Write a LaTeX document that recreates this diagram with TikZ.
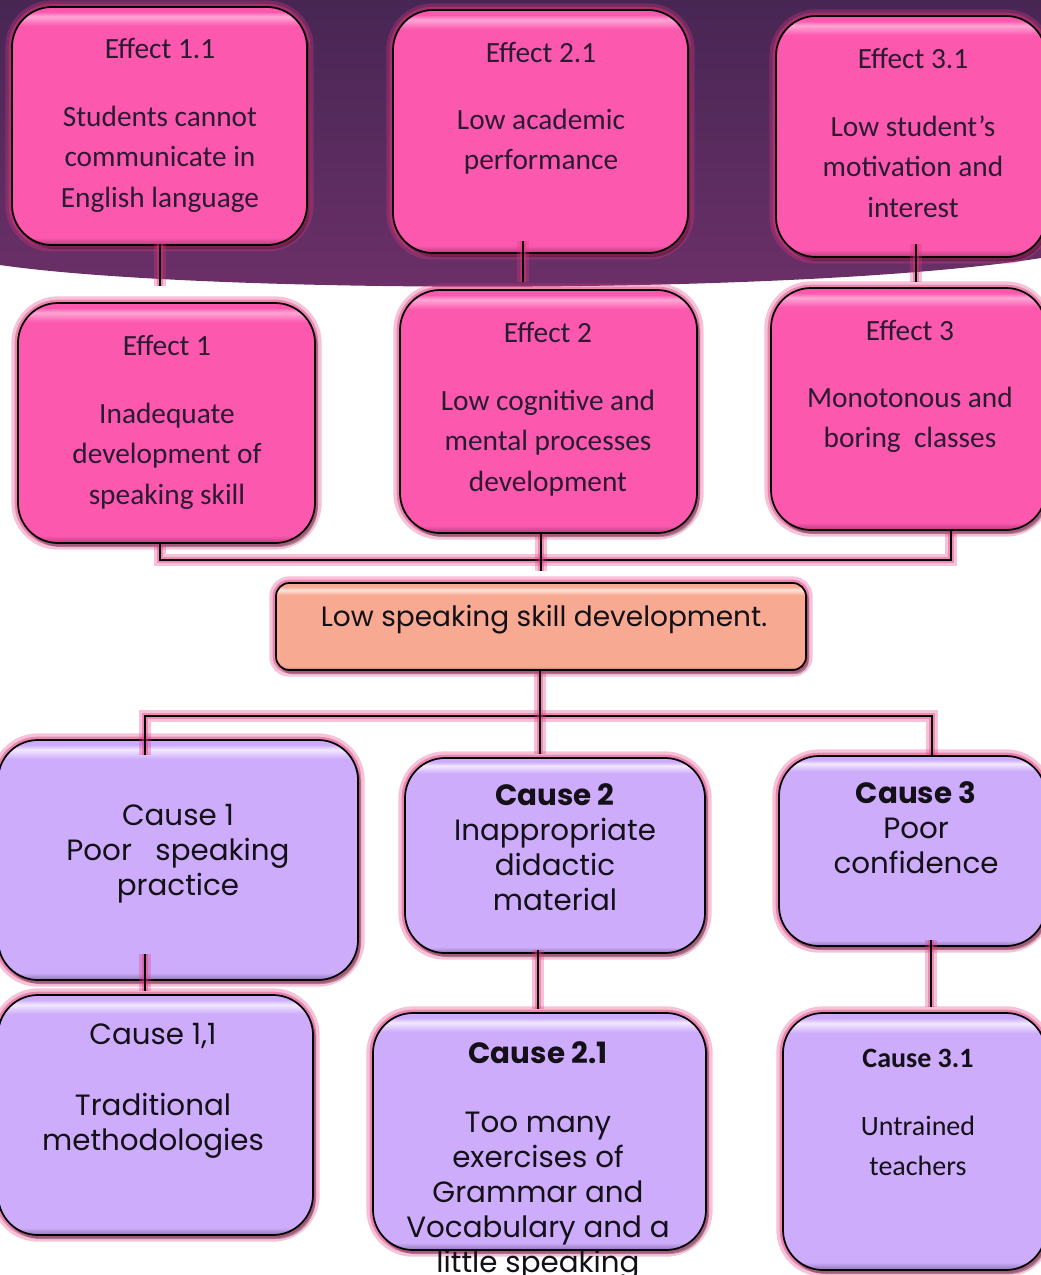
\documentclass[tikz,border=0pt]{standalone}
\usepackage{fontspec}
\setmainfont{Carlito}
\newfontfamily\gothic{Poppins}
\usetikzlibrary{fit,shadows}
\definecolor{pinkbase}{HTML}{FB58AE}
\definecolor{pinklight}{HTML}{FFA6D6}
\definecolor{pinkdark}{HTML}{B83A7C}
\definecolor{lavbase}{HTML}{CDACFB}
\definecolor{lavlight}{HTML}{F2E8FF}
\definecolor{lavdark}{HTML}{8E74B4}
\definecolor{salbase}{HTML}{F8A992}
\definecolor{sallight}{HTML}{FFE2D8}
\definecolor{saldark}{HTML}{B8735F}
\definecolor{glowc}{HTML}{E0357F}
\definecolor{bgtop}{HTML}{472654}
\definecolor{bgbot}{HTML}{6C3068}
\definecolor{etext}{HTML}{2A1B33}
\definecolor{ctext}{HTML}{141018}
\pgfdeclareverticalshading{pinkbev}{100bp}{color(0bp)=(pinkdark); color(25bp)=(pinkdark); color(26.5bp)=(pinkbase); color(71bp)=(pinkbase); color(73bp)=(pinklight); color(74bp)=(pinkbase); color(100bp)=(pinkbase)}
\pgfdeclareverticalshading{lavbev}{100bp}{color(0bp)=(lavdark); color(25bp)=(lavdark); color(26.5bp)=(lavbase); color(71bp)=(lavbase); color(73bp)=(lavlight); color(74bp)=(lavbase); color(100bp)=(lavbase)}
\pgfdeclareverticalshading{salbev}{100bp}{color(0bp)=(saldark); color(25bp)=(saldark); color(27bp)=(salbase); color(68bp)=(salbase); color(71bp)=(sallight); color(73bp)=(salbase); color(100bp)=(salbase)}
\tikzset{
  boxbase/.style={rectangle, inner sep=0pt, draw=black, line width=1.3pt,
    preaction={draw=glowc, line width=10pt, opacity=0.3},
    preaction={draw=glowc, line width=5pt, opacity=0.45},
    drop shadow={shadow xshift=2pt, shadow yshift=-3pt, opacity=0.3, fill=black}},
  ebox/.style={boxbase, rounded corners=30pt, shade, shading=pinkbev},
  cbox/.style={boxbase, rounded corners=30pt, shade, shading=lavbev},
  mbox/.style={boxbase, rounded corners=10pt, shade, shading=salbev},
  etxt/.style={align=center, text=etext, inner sep=0pt, font=\fontsize{22}{30.4}\selectfont},
  ctxt/.style={align=center, text=ctext, inner sep=0pt, font=\gothic\fontsize{22}{26.25}\selectfont},
  c3txt/.style={align=center, text=ctext, inner sep=0pt, font=\fontsize{21}{30}\selectfont},
  conn/.style={draw=black, line width=1.1pt,
    preaction={draw=glowc, line width=9pt, opacity=0.3},
    preaction={draw=glowc, line width=5pt, opacity=0.4}},
}
\begin{document}
\begin{tikzpicture}[x=0.75pt, y=-0.75pt]
\useasboundingbox (0,0) rectangle (1041,1275);
\clip (0,0) rectangle (1041,1275);
% background band
\shade[top color=bgtop, bottom color=bgbot] (0,0) -- (1041,0) -- (1041,258)
  .. controls (800,296) and (200,294) .. (0,265) -- cycle;

% boxes
\node[ebox, fit={(12,7) (307,245)}] (e11) {};
\node[ebox, fit={(393,10) (688,253)}] (e21) {};
\node[ebox, fit={(776,16) (1046,257)}] (e31) {};
\node[ebox, fit={(18,303) (315,543)}] (e1) {};
\node[ebox, fit={(400,290) (697,533)}] (e2) {};
\node[ebox, fit={(771,288) (1046,530)}] (e3) {};
\node[mbox, fit={(276,583) (806,670)}] (mid) {};
\node[cbox, fit={(-2,740) (358,980)}] (c1) {};
\node[cbox, fit={(405,758) (705,953)}] (c2) {};
\node[cbox, fit={(779,756) (1046,946)}] (c3) {};
\node[cbox, fit={(-2,995) (313,1235)}] (c11) {};
\node[cbox, fit={(373,1013) (706,1250)}] (c21) {};
\node[cbox, fit={(783,1013) (1046,1270)}] (c31) {};

% texts
\node[etxt] (te11) at (160,125) {\strut Effect 1.1\\[20pt]\strut Students cannot\\\strut communicate in\\\strut English language};
\node[etxt] (te21) at (541,108) {\strut Effect 2.1\\[20pt]\strut Low academic\\\strut performance};
\node[etxt] (te31) at (913,135) {\strut Effect 3.1\\[20pt]\strut Low student’s\\\strut motivation and\\\strut interest};
\node[etxt] (te1) at (167,422) {\strut Effect 1\\[20pt]\strut Inadequate\\\strut development of\\\strut speaking skill};
\node[etxt] (te2) at (548,409) {\strut Effect 2\\[20pt]\strut Low cognitive and\\\strut mental processes\\\strut development};
\node[etxt] (te3) at (910,386) {\strut Effect 3\\[20pt]\strut Monotonous and\\\strut boring~ classes};
\node[ctxt, font=\gothic\fontsize{21}{26}\selectfont] (tmid) at (544,620) {\strut Low speaking skill development.};
\node[ctxt] (tc1) at (178,853) {\strut Cause 1\\\strut Poor~~ speaking\\\strut practice};
\node[ctxt] (tc2) at (555,851) {\strut\textbf{Cause 2}\\\strut Inappropriate\\\strut didactic\\\strut material};
\node[ctxt] (tc3) at (916,831) {\strut\textbf{Cause 3}\\\strut Poor\\\strut confidence};
\node[ctxt] (tc11) at (153,1090) {\strut Cause 1,1\\[27pt]\strut Traditional\\\strut methodologies};
\node[ctxt] (tc21) at (538,1161) {\strut\textbf{Cause 2.1}\\[26pt]\strut Too many\\\strut exercises of\\\strut Grammar and\\\strut Vocabulary and a\\\strut little speaking};
\node[c3txt] (tc31) at (918,1113) {\strut\textbf{Cause 3.1}\\[21pt]\strut Untrained\\\strut teachers};

% connectors
\coordinate (t1) at (160,270);
\coordinate (t2) at (523,270);
\coordinate (t3) at (916,270);
\draw[conn, shorten <=-1.5pt, shorten >=12pt] (t1 |- e11.south) -- (t1 |- e1.north);
\draw[conn, shorten <=-9.75pt, shorten >=5pt] (t2 |- e21.south) -- (t2 |- e2.north);
\draw[conn, shorten <=-10.5pt, shorten >=3.75pt] (t3 |- e31.south) -- (t3 |- e3.north);

\coordinate (b1) at (160,560);
\coordinate (b2) at (541,560);
\coordinate (b3) at (951,560);
\draw[conn] (b1 |- e1.south) -- (b1) -- (b3) -- (b3 |- e3.south);
\draw[conn, shorten >=8pt] (b2 |- e2.south) -- (b2 |- mid.north);

\coordinate (d1) at (145,716);
\coordinate (d2) at (540,716);
\coordinate (d3) at (932,716);
\draw[conn, shorten <=-12pt] (d1 |- c1.north) -- (d1) -- (d3) -- (d3 |- c3.north);
\draw[conn, shorten >=2pt] (d2 |- mid.south) -- (d2 |- c2.north);

\coordinate (v1) at (145,990);
\coordinate (v2) at (538,990);
\coordinate (v3) at (931,990);
\draw[conn, shorten <=-20pt, shorten >=2pt] (v1 |- c1.south) -- (v1 |- c11.north);
\draw[conn, shorten <=-3pt, shorten >=2pt] (v2 |- c2.south) -- (v2 |- c21.north);
\draw[conn, shorten <=-5pt, shorten >=4pt] (v3 |- c3.south) -- (v3 |- c31.north);
\end{tikzpicture}
\end{document}
